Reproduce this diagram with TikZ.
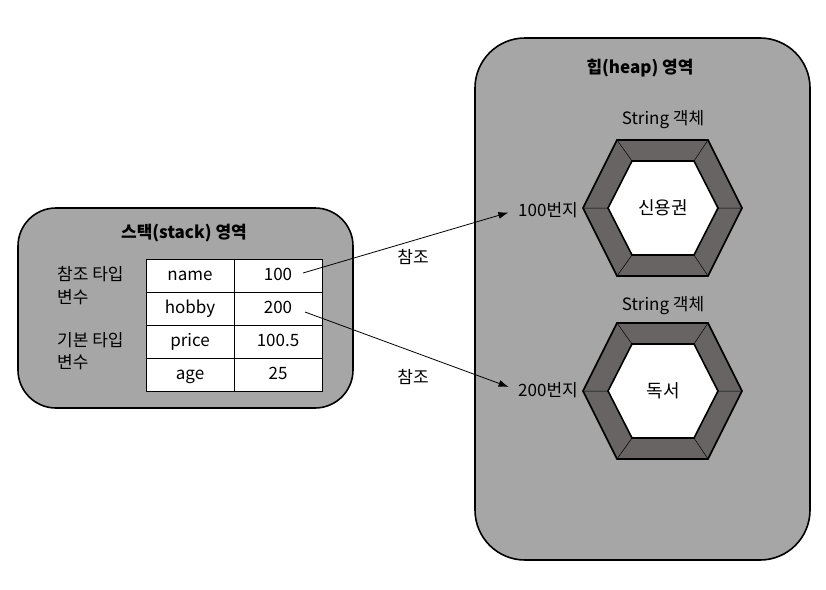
\documentclass[tikz,border=0pt]{standalone}
\usepackage{fontspec}
\setmainfont{Noto Sans CJK KR}
\usetikzlibrary{arrows.meta}
\definecolor{areafill}{RGB}{166,166,166}
\definecolor{hexring}{RGB}{104,100,100}
\begin{document}
\begin{tikzpicture}[x=1pt,y=-1pt,
  area/.style={draw=black,line width=1.6pt,fill=areafill},
  cell/.style={draw=black,line width=1pt,fill=white,minimum width=88pt,minimum height=33pt,inner sep=0pt,
    text height=12pt,text depth=3pt,font=\fontsize{17}{19}\selectfont},
  lbl/.style={font=\fontsize{17}{19}\selectfont,inner sep=1pt},
  ttl/.style={font=\bfseries\fontsize{17}{19}\selectfont,inner sep=1pt},
  ring/.style={draw=black,line width=1.6pt,fill=hexring},
  core/.style={draw=black,line width=1.6pt,fill=white},
  spoke/.style={draw=black,line width=0.5pt},
  ref/.style={draw=black,line width=0.8pt,shorten >=9pt,-{Latex[length=10pt,width=7pt]}}]
\useasboundingbox (0,0) rectangle (826,589);

% stack area
\draw[area,rounded corners=38pt] (18,208) rectangle (353,408);
\node[ttl] (stacktitle) at (184,233) {스택(stack) 영역};

% variable table
\node[cell] (n1) at (190,275.5) {name};
\node[cell] (v1) at (278,275.5) {100};
\node[cell] (n2) at (190,308.5) {hobby};
\node[cell] (v2) at (278,308.5) {200};
\node[cell] (n3) at (190,341.5) {price};
\node[cell] (v3) at (278,341.5) {100.5};
\node[cell] (n4) at (190,374.5) {age};
\node[cell] (v4) at (278,374.5) {25};

\node[lbl,anchor=west] (refa) at (56,274) {참조 타입};
\node[lbl,anchor=west] (refb) at (56,297) {변수};
\node[lbl,anchor=west] (basa) at (56,340) {기본 타입};
\node[lbl,anchor=west] (basb) at (56,362) {변수};

% heap area
\draw[area,rounded corners=50pt] (475,38) rectangle (810,560);
\node[ttl] (heaptitle) at (640,68) {힙(heap) 영역};

% string objects as framed hexagons
\foreach \cy/\txt/\nm in {208/신용권/objA, 391/독서/objB}{
  \draw[ring] (583,\cy) -- (617,\cy-68) -- (708,\cy-68) -- (742,\cy) -- (708,\cy+68) -- (617,\cy+68) -- cycle;
  \draw[spoke] (583,\cy) -- (608,\cy) (617,\cy-68) -- (632,\cy-47) (708,\cy-68) -- (694,\cy-47)
               (742,\cy) -- (718,\cy) (708,\cy+68) -- (694,\cy+47) (617,\cy+68) -- (632,\cy+47);
  \draw[core] (608,\cy) -- (632,\cy-47) -- (694,\cy-47) -- (718,\cy) -- (694,\cy+47) -- (632,\cy+47) -- cycle;
  \node[lbl,font=\fontsize{18}{20}\selectfont] (\nm) at (663,\cy) {\txt};
}
\node[lbl] (strA) at (663,120) {String 객체};
\node[lbl] (strB) at (663,306) {String 객체};
\node[lbl,anchor=east] (addrA) at (579,210) {100번지};
\node[lbl,anchor=east] (addrB) at (579,390) {200번지};

% references
\coordinate (fromA) at (303,273);
\coordinate (fromB) at (305,312);
\draw[ref] (fromA) -- (addrA.west);
\draw[ref] (fromB) -- (addrB.west);
\node[lbl] (refA) at (413,257) {참조};
\node[lbl] (refB) at (413,377) {참조};
\end{tikzpicture}
\end{document}
